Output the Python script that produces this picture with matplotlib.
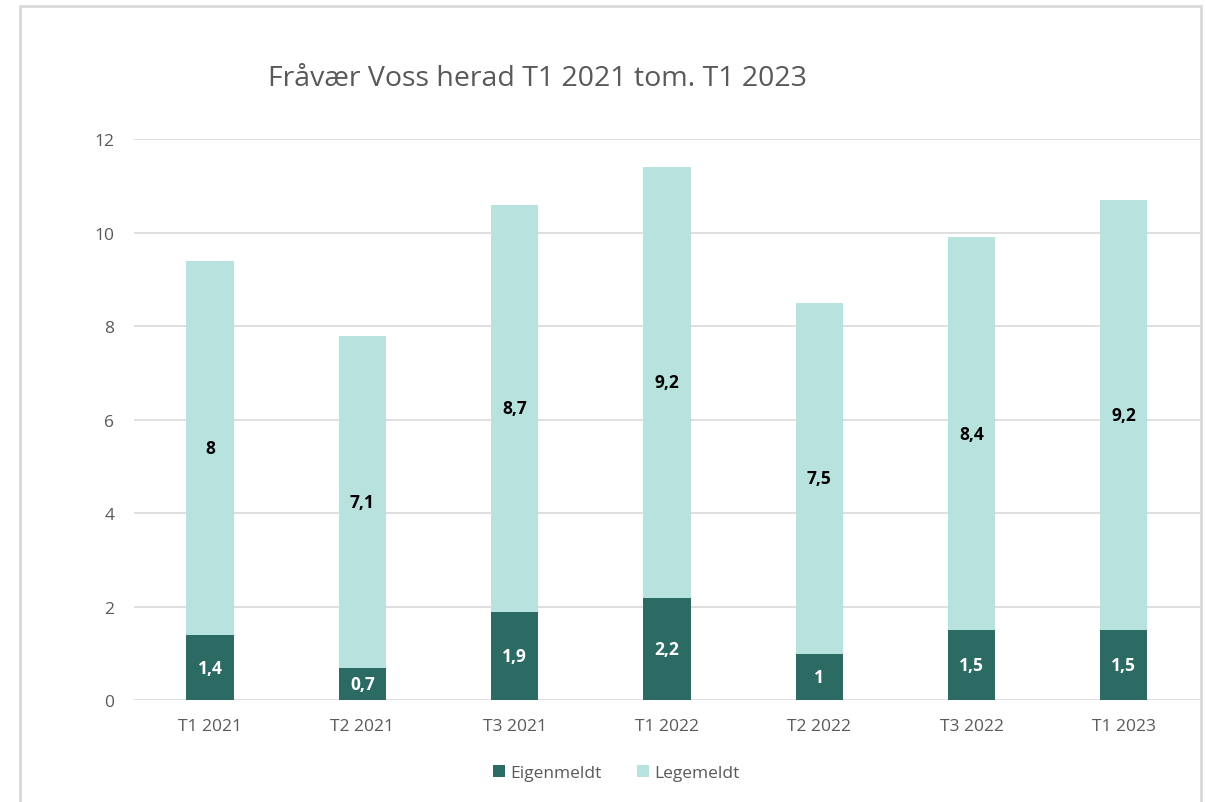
import matplotlib
matplotlib.use("Agg")
import matplotlib.pyplot as plt
from matplotlib.patches import Rectangle
import numpy as np

plt.rcParams["font.family"] = ["Open Sans", "DejaVu Sans"]

categories = ["T1 2021", "T2 2021", "T3 2021", "T1 2022", "T2 2022", "T3 2022", "T1 2023"]
eigenmeldt = [1.4, 0.7, 1.9, 2.2, 1.0, 1.5, 1.5]
legemeldt = [8.0, 7.1, 8.7, 9.2, 7.5, 8.4, 9.2]

DARK = "#2C6B64"
LIGHT = "#B8E2DE"
GREY = "#595959"


def fmt(v):
    s = f"{v:g}"
    return s.replace(".", ",")


fig = plt.figure(figsize=(12.06, 8.03), dpi=100)
ax = fig.add_axes([0.111, 0.1265, 0.884, 0.699])

x = np.arange(len(categories))
eig = np.array(eigenmeldt)
leg = np.array(legemeldt)
w = 0.31

b1 = ax.bar(x, eig, w, color=DARK, label="Eigenmeldt", zorder=3)
b2 = ax.bar(x, leg, w, bottom=eig, color=LIGHT, label="Legemeldt", zorder=3)

for xi, e, l in zip(x, eig, leg):
    ax.text(xi, e / 2, fmt(e), ha="center", va="center", color="white",
            fontsize=12.5, fontweight="bold", zorder=4)
    ax.text(xi, e + l / 2, fmt(l), ha="center", va="center", color="black",
            fontsize=12.5, fontweight="bold", zorder=4)

ax.set_xlim(-0.5, len(categories) - 0.5)
ax.set_ylim(0, 12)
ax.set_yticks(range(0, 13, 2))
ax.set_xticks(x)
ax.set_xticklabels(categories)
ax.tick_params(axis="both", length=0, labelsize=12.5, labelcolor=GREY)
ax.tick_params(axis="y", pad=14)
ax.tick_params(axis="x", pad=13)
ax.grid(axis="y", color="#D9D9D9", linewidth=1.2, zorder=0)
for s in ax.spines.values():
    s.set_visible(False)

fig.text(0.446, 0.9015, "Fråvær Voss herad T1 2021 tom. T1 2023", ha="center",
         va="center", fontsize=20.5, color=GREY)

fig.legend(handles=[b1, b2], loc="center", bbox_to_anchor=(0.511, 0.036), ncol=2,
           frameon=False, fontsize=12.5, labelcolor=GREY, handlelength=0.7,
           handleheight=0.7, handletextpad=0.3, columnspacing=2.0)

border = Rectangle((20 / 1206, -0.05), (1201 - 20) / 1206, 1 - 7 / 803 + 0.05,
                   transform=fig.transFigure, fill=False, edgecolor="#D9D9D9",
                   linewidth=2, zorder=10)
fig.patches.append(border)

fig.savefig("out.png", dpi=100)
